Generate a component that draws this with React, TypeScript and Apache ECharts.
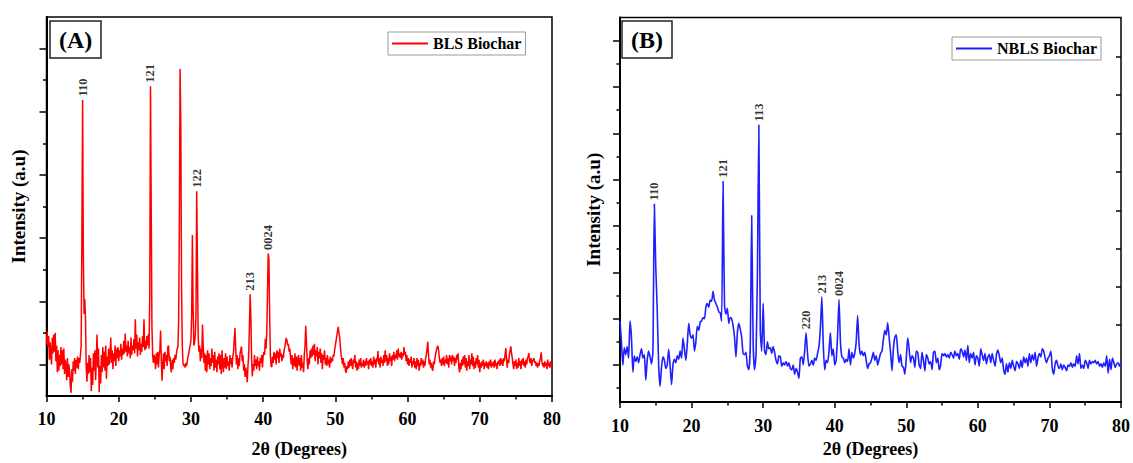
import React, { useEffect, useRef } from "react";
import * as echarts from "echarts";

// ---------- Panel A (BLS Biochar): 2θ from 10 to 80, step 0.1 ----------
const A_START = 10;
const A_STEP = 0.1;
const aIntensity: number[] = [
  1.65, 2.05, 1.55, 1.9, 1.15, 1.7, 1.3, 1.0, 1.85, 1.35,
  1.95, 1.4, 2.0, 1.1, 1.6, 0.75, 1.45, 0.8, 1.3, 0.95,
  1.55, 1.0, 1.45, 0.85, 1.5, 0.7, 1.15, 0.95, 0.5, 1.2,
  0.6, 1.0, 0.75, 0.3, 0.1, 0.85, 0.45, 1.1, 0.8, 1.2,
  0.7, 1.15, 0.9, 1.25, 0.85, 1.2, 1.05, 1.3, 1.6, 5.0,
  9.37, 4.5, 2.6, 3.07, 2.45, 0.9, 0.45, 1.05, 0.7, 1.3,
  0.75, 1.2, 0.15, 0.9, 0.35, 1.35, 0.8, 1.45, 0.5, 1.2,
  1.95, 0.9, 1.5, 0.12, 0.95, 0.4, 1.3, 0.75, 1.55, 0.9,
  1.4, 0.8, 1.6, 0.55, 1.25, 0.95, 1.5, 1.0, 1.3, 1.85,
  1.05, 1.45, 0.85, 1.35, 1.1, 1.6, 0.95, 1.5, 1.2, 1.55,
  1.1, 1.45, 1.25, 1.65, 1.15, 1.5, 1.3, 1.75, 1.35, 1.98,
  1.4, 1.6, 1.25, 1.75, 1.35, 1.55, 1.2, 1.85, 1.3, 1.6,
  1.45, 1.8, 1.35, 2.43, 1.5, 1.95, 1.25, 1.7, 1.45, 1.85,
  1.3, 1.65, 1.4, 1.9, 1.55, 2.43, 1.45, 1.75, 1.5, 1.9,
  1.6, 1.95, 1.5, 3.2, 9.81, 6.0, 2.2, 1.3, 1.05, 1.3,
  1.2, 0.85, 1.35, 1.0, 1.4, 0.9, 1.3, 1.45, 2.07, 1.1,
  0.48, 1.0, 1.35, 0.85, 1.4, 1.1, 1.3, 0.95, 1.55, 1.6,
  1.1, 1.25, 0.9, 0.75, 1.15, 0.85, 1.2, 1.05, 1.3, 1.15,
  1.35, 1.5, 1.55, 2.4, 5.5, 10.35, 8.5, 3.5, 1.6, 1.05,
  0.95, 1.0, 0.9, 1.05, 0.95, 1.1, 1.25, 1.35, 1.5, 1.6,
  1.75, 2.5, 5.1, 2.8, 1.6, 1.7, 1.9, 2.6, 6.48, 4.2,
  1.9, 1.4, 1.6, 1.1, 1.5, 1.2, 2.26, 1.6, 1.05, 1.35,
  0.8, 1.3, 0.75, 1.45, 1.0, 1.35, 0.85, 1.2, 0.95, 1.5,
  1.05, 1.3, 0.8, 1.4, 0.9, 1.15, 0.75, 1.25, 1.0, 1.35,
  0.85, 1.3, 0.7, 1.45, 1.05, 0.75, 1.2, 0.9, 1.35, 0.85,
  1.25, 0.95, 1.1, 0.8, 1.3, 1.0, 1.2, 0.9, 1.25, 1.4,
  1.8, 2.15, 1.5, 1.0, 1.3, 0.85, 1.2, 0.95, 1.35, 1.45,
  1.57, 1.1, 1.3, 0.8, 1.0, 0.6, 0.9, 0.7, 0.44, 0.95,
  1.3, 2.2, 3.22, 2.5, 1.2, 0.62, 1.0, 0.8, 1.3, 0.95,
  1.15, 0.85, 1.25, 0.95, 1.1, 0.8, 1.2, 1.05, 1.3, 0.9,
  1.25, 1.4, 1.3, 1.81, 1.5, 2.0, 3.2, 4.51, 4.35, 2.6,
  1.3, 0.95, 0.92, 1.25, 1.05, 1.4, 1.15, 1.35, 1.0, 1.45,
  1.2, 1.4, 1.05, 1.5, 1.25, 1.35, 1.1, 1.3, 1.2, 1.45,
  1.55, 1.7, 1.84, 1.75, 1.6, 1.65, 1.4, 1.5, 1.2, 1.0,
  1.3, 0.85, 1.2, 0.95, 1.35, 0.9, 1.25, 0.8, 1.15, 1.3,
  0.95, 1.2, 0.8, 1.3, 0.9, 1.05, 0.75, 1.3, 1.6, 2.22,
  1.7, 1.1, 0.85, 1.2, 1.0, 1.45, 1.2, 1.5, 1.25, 1.6,
  1.3, 1.65, 1.1, 1.45, 1.25, 1.55, 1.0, 1.4, 1.2, 1.5,
  1.05, 1.35, 0.85, 1.3, 1.15, 1.45, 1.0, 1.2, 0.95, 1.3,
  1.0, 1.15, 0.9, 1.25, 1.05, 1.2, 1.1, 1.3, 1.25, 1.45,
  1.6, 1.75, 1.9, 2.05, 2.19, 2.0, 1.85, 1.55, 1.3, 1.15,
  1.0, 1.2, 0.9, 1.05, 0.8, 0.74, 0.95, 0.85, 1.1, 0.9,
  1.15, 0.95, 1.2, 1.0, 0.85, 1.15, 1.05, 1.3, 0.9, 1.1,
  0.8, 1.05, 0.85, 1.15, 0.95, 1.2, 0.9, 1.05, 0.95, 1.15,
  0.9, 1.1, 0.95, 1.2, 1.0, 1.1, 0.85, 1.15, 1.0, 1.2,
  0.95, 1.1, 0.9, 1.25, 1.0, 1.15, 0.9, 1.2, 1.1, 1.42,
  1.0, 1.2, 0.9, 1.25, 1.05, 1.15, 0.95, 1.3, 1.05, 1.45,
  1.1, 1.3, 0.95, 1.2, 1.0, 1.35, 1.1, 1.25, 0.95, 1.3,
  1.15, 1.4, 1.1, 1.3, 1.2, 1.45, 1.15, 1.5, 1.25, 1.35,
  1.2, 1.4, 1.15, 1.35, 1.25, 1.55, 1.3, 1.4, 1.1, 1.3,
  1.0, 1.2, 0.95, 1.15, 1.05, 1.25, 0.9, 1.1, 1.0, 1.2,
  0.9, 1.1, 0.85, 1.2, 0.95, 1.15, 0.8, 1.05, 0.95, 1.2,
  1.0, 1.15, 0.9, 1.1, 0.95, 1.2, 1.3, 1.5, 1.72, 1.3,
  1.0, 1.15, 0.9, 1.05, 0.85, 0.8, 1.1, 1.0, 1.2, 1.35,
  1.45, 1.55, 1.59, 1.45, 1.2, 1.05, 1.15, 0.95, 1.2, 1.0,
  1.25, 0.95, 1.15, 1.05, 1.3, 1.0, 1.2, 0.9, 1.3, 1.1,
  1.25, 1.0, 1.3, 1.1, 1.25, 0.95, 1.2, 1.05, 1.3, 1.15,
  1.35, 0.9, 0.75, 1.05, 0.85, 1.15, 0.95, 1.25, 1.0, 1.3,
  0.9, 1.2, 0.8, 1.1, 0.95, 1.3, 0.85, 1.15, 1.0, 1.35,
  0.95, 1.25, 0.85, 1.1, 0.9, 1.2, 1.0, 1.3, 0.9, 1.15,
  0.75, 1.05, 0.9, 1.1, 0.95, 1.15, 0.85, 1.05, 0.95, 1.1,
  0.9, 1.05, 0.85, 1.1, 0.95, 1.15, 0.9, 1.05, 0.95, 1.1,
  0.9, 1.15, 0.95, 1.05, 0.85, 1.1, 1.0, 1.15, 0.95, 1.2,
  1.0, 1.15, 0.95, 1.2, 1.1, 1.3, 1.52, 1.2, 0.9, 1.15,
  1.05, 1.3, 1.45, 1.57, 1.35, 1.2, 1.0, 0.85, 1.1, 0.95,
  1.15, 0.85, 1.05, 0.9, 1.2, 0.95, 1.1, 0.85, 1.15, 1.0,
  1.2, 0.95, 1.1, 0.9, 1.15, 1.0, 1.2, 1.25, 1.36, 1.1,
  1.05, 1.2, 0.95, 1.15, 1.1, 1.2, 1.05, 1.1, 0.95, 1.05,
  0.9, 1.05, 0.95, 1.1, 1.2, 1.38, 1.1, 0.95, 1.05, 0.9,
  1.1, 0.95, 1.05, 0.85, 1.15, 0.95, 1.05, 0.9, 1.1, 0.95,
  0.9,
];
const aPeakNames = ["110", "121", "122", "213", "0024"];
const aPeakAngles = [15.0, 24.4, 30.8, 38.2, 40.7];
const aPeakHeights = [9.37, 9.81, 6.48, 3.22, 4.51];
const aMajorTicks = [1, 3, 5, 7, 9, 11];
const aMinorTicks = [2, 4, 6, 8, 10];

// ---------- Panel B (NBLS Biochar): 2θ from 10 to 80, step 0.2 ----------
const B_START = 10;
const B_STEP = 0.2;
const bIntensity: number[] = [
  2.9, 2.0, 1.0, 1.75, 1.45, 1.8, 1.3, 2.9, 2.2, 0.7,
  1.4, 1.15, 1.35, 1.1, 1.45, 1.7, 1.3, 1.45, 0.35, 1.2,
  1.6, 1.35, 1.05, 1.6, 7.95, 5.2, 3.4, 1.0, 0.08, 0.9,
  1.35, 1.2, 0.85, 1.0, 1.68, 1.0, 0.15, 1.0, 1.25, 1.1,
  1.4, 1.25, 1.6, 1.3, 2.16, 1.7, 1.2, 1.9, 2.8, 2.3,
  2.16, 2.3, 1.6, 2.0, 2.67, 2.5, 2.85, 2.9, 3.05, 3.0,
  3.5, 3.65, 3.5, 3.8, 3.75, 4.18, 3.8, 3.65, 3.5, 3.3,
  3.25, 2.9, 8.93, 3.6, 3.2, 3.45, 2.8, 3.05, 3.0, 2.7,
  2.2, 1.35, 2.4, 2.8, 2.55, 2.2, 1.5, 1.45, 1.55, 0.95,
  0.8, 1.8, 7.45, 2.0, 0.8, 1.4, 5.0, 11.36, 2.5, 1.6,
  3.66, 1.6, 1.45, 2.0, 1.7, 1.75, 1.5, 1.8, 1.55, 1.2,
  1.05, 1.4, 1.35, 0.95, 1.1, 1.0, 1.15, 0.95, 1.1, 0.85,
  0.8, 1.0, 0.6, 0.85, 0.7, 0.42, 1.3, 1.35, 1.0, 1.6,
  2.39, 1.5, 0.95, 1.05, 1.2, 1.0, 1.3, 1.2, 1.5, 1.8,
  2.6, 3.94, 1.9, 0.8, 1.2, 1.1, 1.6, 2.39, 1.4, 1.7,
  1.0, 1.2, 2.3, 3.83, 2.0, 1.35, 1.3, 1.1, 1.25, 1.15,
  1.7, 1.0, 1.55, 1.3, 1.5, 2.0, 3.14, 1.9, 1.45, 1.6,
  1.4, 1.55, 1.2, 0.85, 1.05, 1.1, 1.3, 1.55, 1.2, 1.4,
  1.0, 1.25, 1.5, 1.6, 2.1, 2.5, 2.3, 2.82, 2.2, 1.55,
  0.75, 1.7, 2.2, 2.3, 1.6, 1.1, 1.45, 0.95, 0.9, 0.6,
  1.3, 2.18, 1.7, 1.1, 1.4, 1.3, 0.9, 1.6, 1.55, 1.0,
  0.85, 1.55, 1.2, 0.75, 1.45, 1.3, 1.05, 1.15, 0.8, 1.55,
  1.6, 1.1, 1.3, 0.8, 1.0, 1.5, 1.4, 1.5, 1.35, 1.45,
  1.3, 1.55, 1.45, 1.3, 1.6, 1.4, 1.5, 1.25, 1.7, 1.6,
  1.35, 1.65, 1.2, 1.85, 1.1, 1.5, 1.3, 1.55, 1.0, 1.4,
  1.3, 0.95, 1.7, 1.45, 1.2, 1.5, 1.05, 1.35, 1.45, 1.1,
  1.5, 1.2, 0.95, 1.45, 1.65, 1.4, 1.1, 1.3, 0.8, 0.6,
  1.05, 0.7, 1.1, 0.85, 1.2, 0.95, 0.75, 1.15, 1.05, 0.85,
  1.2, 0.9, 1.35, 1.1, 1.3, 0.95, 1.5, 1.1, 1.45, 1.2,
  1.55, 0.95, 1.3, 1.5, 1.35, 1.7, 1.6, 1.3, 1.1, 1.3,
  1.4, 1.6, 0.85, 0.6, 1.05, 1.2, 0.95, 0.85, 1.05, 0.8,
  1.0, 0.9, 0.75, 1.0, 0.95, 1.1, 0.9, 1.05, 0.95, 1.4,
  1.05, 1.5, 0.85, 1.0, 0.85, 1.2, 1.1, 0.85, 1.2, 1.05,
  1.15, 1.1, 1.2, 1.05, 1.15, 0.95, 1.05, 0.9, 1.1, 0.95,
  1.4, 0.65, 1.25, 0.8, 1.3, 1.1, 0.9, 1.05, 1.1, 0.95,
  1.1,
];
const bPeakNames = ["110", "121", "113", "220", "213", "0024"];
const bPeakAngles = [14.8, 24.4, 29.4, 36.0, 38.2, 40.6];
const bPeakHeights = [7.95, 8.93, 11.36, 2.39, 3.94, 3.83];
const bMajorTicks = [1, 3, 5, 7, 9, 11, 13, 15];
const bMinorTicks = [0, 2, 4, 6, 8, 10, 12, 14];
const bRightTicks = [2.72, 4.37, 6.02, 7.68, 9.34, 11.0, 12.65, 14.31];

const xTickLabels = [10, 20, 30, 40, 50, 60, 70, 80];

const FONT = "'Liberation Serif', 'Times New Roman', serif";

function toPairs(start: number, step: number, vals: number[]) {
  return vals.map((v, i) => [Math.round((start + i * step) * 100) / 100, v]);
}

function xAxisFor(gridIndex: number, nameGap: number, margin: number) {
  return {
    type: "value",
    gridIndex,
    min: xTickLabels[0],
    max: xTickLabels[xTickLabels.length - 1],
    interval: 10,
    name: "2θ (Degrees)",
    nameLocation: "middle",
    nameGap,
    nameTextStyle: { fontFamily: FONT, fontWeight: "bold", fontSize: 18, color: "#000" },
    axisLine: { show: true, onZero: false, lineStyle: { color: "#000", width: 2 } },
    axisTick: { show: true, length: 6, lineStyle: { color: "#000", width: 1.5 } },
    minorTick: { show: true, splitNumber: 2, length: 3.5, lineStyle: { color: "#000", width: 1.5 } },
    axisLabel: { fontFamily: FONT, fontWeight: "bold", fontSize: 18, color: "#000", margin },
    splitLine: { show: false },
    minorSplitLine: { show: false },
  };
}

function tickAxis(gridIndex: number, min: number, max: number, ticks: number[], len: number, position: string, inside: boolean) {
  return {
    type: "value",
    gridIndex,
    position,
    min,
    max,
    axisLine: { show: false },
    axisTick: { show: true, inside, length: len, customValues: ticks, lineStyle: { color: "#000", width: 1.5 } },
    axisLabel: { show: false },
    splitLine: { show: false },
  };
}

function labelSeries(name: string, xi: number, yi: number, names: string[], xs: number[], ys: number[]) {
  return {
    name,
    type: "scatter",
    xAxisIndex: xi,
    yAxisIndex: yi,
    symbolSize: 1,
    silent: true,
    itemStyle: { color: "rgba(0,0,0,0)" },
    data: names.map((n, i) => ({ name: n, value: [xs[i], ys[i]] })),
    label: {
      show: true,
      formatter: "{b}",
      position: "top",
      distance: 3,
      rotate: 90,
      align: "left",
      verticalAlign: "middle",
      fontFamily: FONT,
      fontWeight: "bold",
      fontSize: 12.5,
      color: "#000",
    },
  };
}

export default function App() {
  const ref = useRef<HTMLDivElement>(null);
  useEffect(() => {
    if (!ref.current) return;
    const chart = echarts.init(ref.current, undefined, { renderer: "svg" });
    const legendCommon = {
      orient: "horizontal",
      icon: "rect",
      itemWidth: 36,
      itemHeight: 2,
      itemGap: 0,
      selectedMode: false,
      borderColor: "#9a9a9a",
      borderWidth: 1,
      padding: [3, 4, 3, 4],
      textStyle: { fontFamily: FONT, fontWeight: "bold", fontSize: 16, color: "#000", lineHeight: 17 },
    };
    const titleCommon = {
      borderColor: "#222",
      borderWidth: 1.5,
      padding: [5, 9, 5, 9],
      textStyle: { fontFamily: FONT, fontWeight: "bold", fontSize: 24, color: "#000", lineHeight: 27 },
    };
    chart.setOption({
      animation: false,
      backgroundColor: "#fff",
      title: [
        { ...titleCommon, text: "(A)", left: 50, top: 21 },
        { ...titleCommon, text: "(B)", left: 622, top: 21 },
      ],
      legend: [
        { ...legendCommon, data: ["BLS Biochar"], left: 388, top: 32 },
        { ...legendCommon, data: ["NBLS Biochar"], left: 952, top: 37 },
      ],
      grid: [
        { left: 46.5, top: 17, width: 505.5, height: 387, show: true, borderColor: "#000", borderWidth: 1.5, backgroundColor: "transparent" },
        { left: 620, top: 17.5, width: 504, height: 393.5, show: true, borderColor: "#000", borderWidth: 1.5, backgroundColor: "transparent" },
      ],
      xAxis: [xAxisFor(0, 44, 14), xAxisFor(1, 37, 15)],
      yAxis: [
        {
          type: "value",
          gridIndex: 0,
          position: "left",
          min: 0,
          max: 12,
          name: "Intensity (a.u)",
          nameLocation: "middle",
          nameGap: 19,
          nameTextStyle: { fontFamily: FONT, fontWeight: "bold", fontSize: 19, color: "#000" },
          axisLine: { show: true, lineStyle: { color: "#000", width: 2 } },
          axisTick: { show: true, length: 7, customValues: aMajorTicks, lineStyle: { color: "#000", width: 1.5 } },
          axisLabel: { show: false },
          splitLine: { show: false },
        },
        tickAxis(0, 0, 12, aMinorTicks, 3.5, "left", false),
        {
          type: "value",
          gridIndex: 1,
          position: "left",
          min: -0.6,
          max: 16,
          name: "Intensity (a.u)",
          nameLocation: "middle",
          nameGap: 17,
          nameTextStyle: { fontFamily: FONT, fontWeight: "bold", fontSize: 19, color: "#000" },
          axisLine: { show: true, lineStyle: { color: "#000", width: 2 } },
          axisTick: { show: true, length: 7, customValues: bMajorTicks, lineStyle: { color: "#000", width: 1.5 } },
          axisLabel: { show: false },
          splitLine: { show: false },
        },
        tickAxis(1, -0.6, 16, bMinorTicks, 3.5, "left", false),
        tickAxis(1, -0.6, 16, bRightTicks, 5, "right", true),
      ],
      series: [
        {
          name: "BLS Biochar",
          type: "line",
          xAxisIndex: 0,
          yAxisIndex: 0,
          symbol: "none",
          lineStyle: { color: "#ff0000", width: 1.5 },
          itemStyle: { color: "#ff0000" },
          data: toPairs(A_START, A_STEP, aIntensity),
        },
        labelSeries("A peaks", 0, 0, aPeakNames, aPeakAngles, aPeakHeights),
        {
          name: "NBLS Biochar",
          type: "line",
          xAxisIndex: 1,
          yAxisIndex: 2,
          symbol: "none",
          smooth: 0.2,
          lineStyle: { color: "#1e1eff", width: 1.6 },
          itemStyle: { color: "#1e1eff" },
          data: toPairs(B_START, B_STEP, bIntensity),
        },
        labelSeries("B peaks", 1, 2, bPeakNames, bPeakAngles, bPeakHeights),
      ],
    });
    return () => chart.dispose();
  }, []);
  return (
    <div
      ref={ref}
      style={{ position: "absolute", left: 0, top: 0, width: 1133, height: 463 }}
    />
  );
}
